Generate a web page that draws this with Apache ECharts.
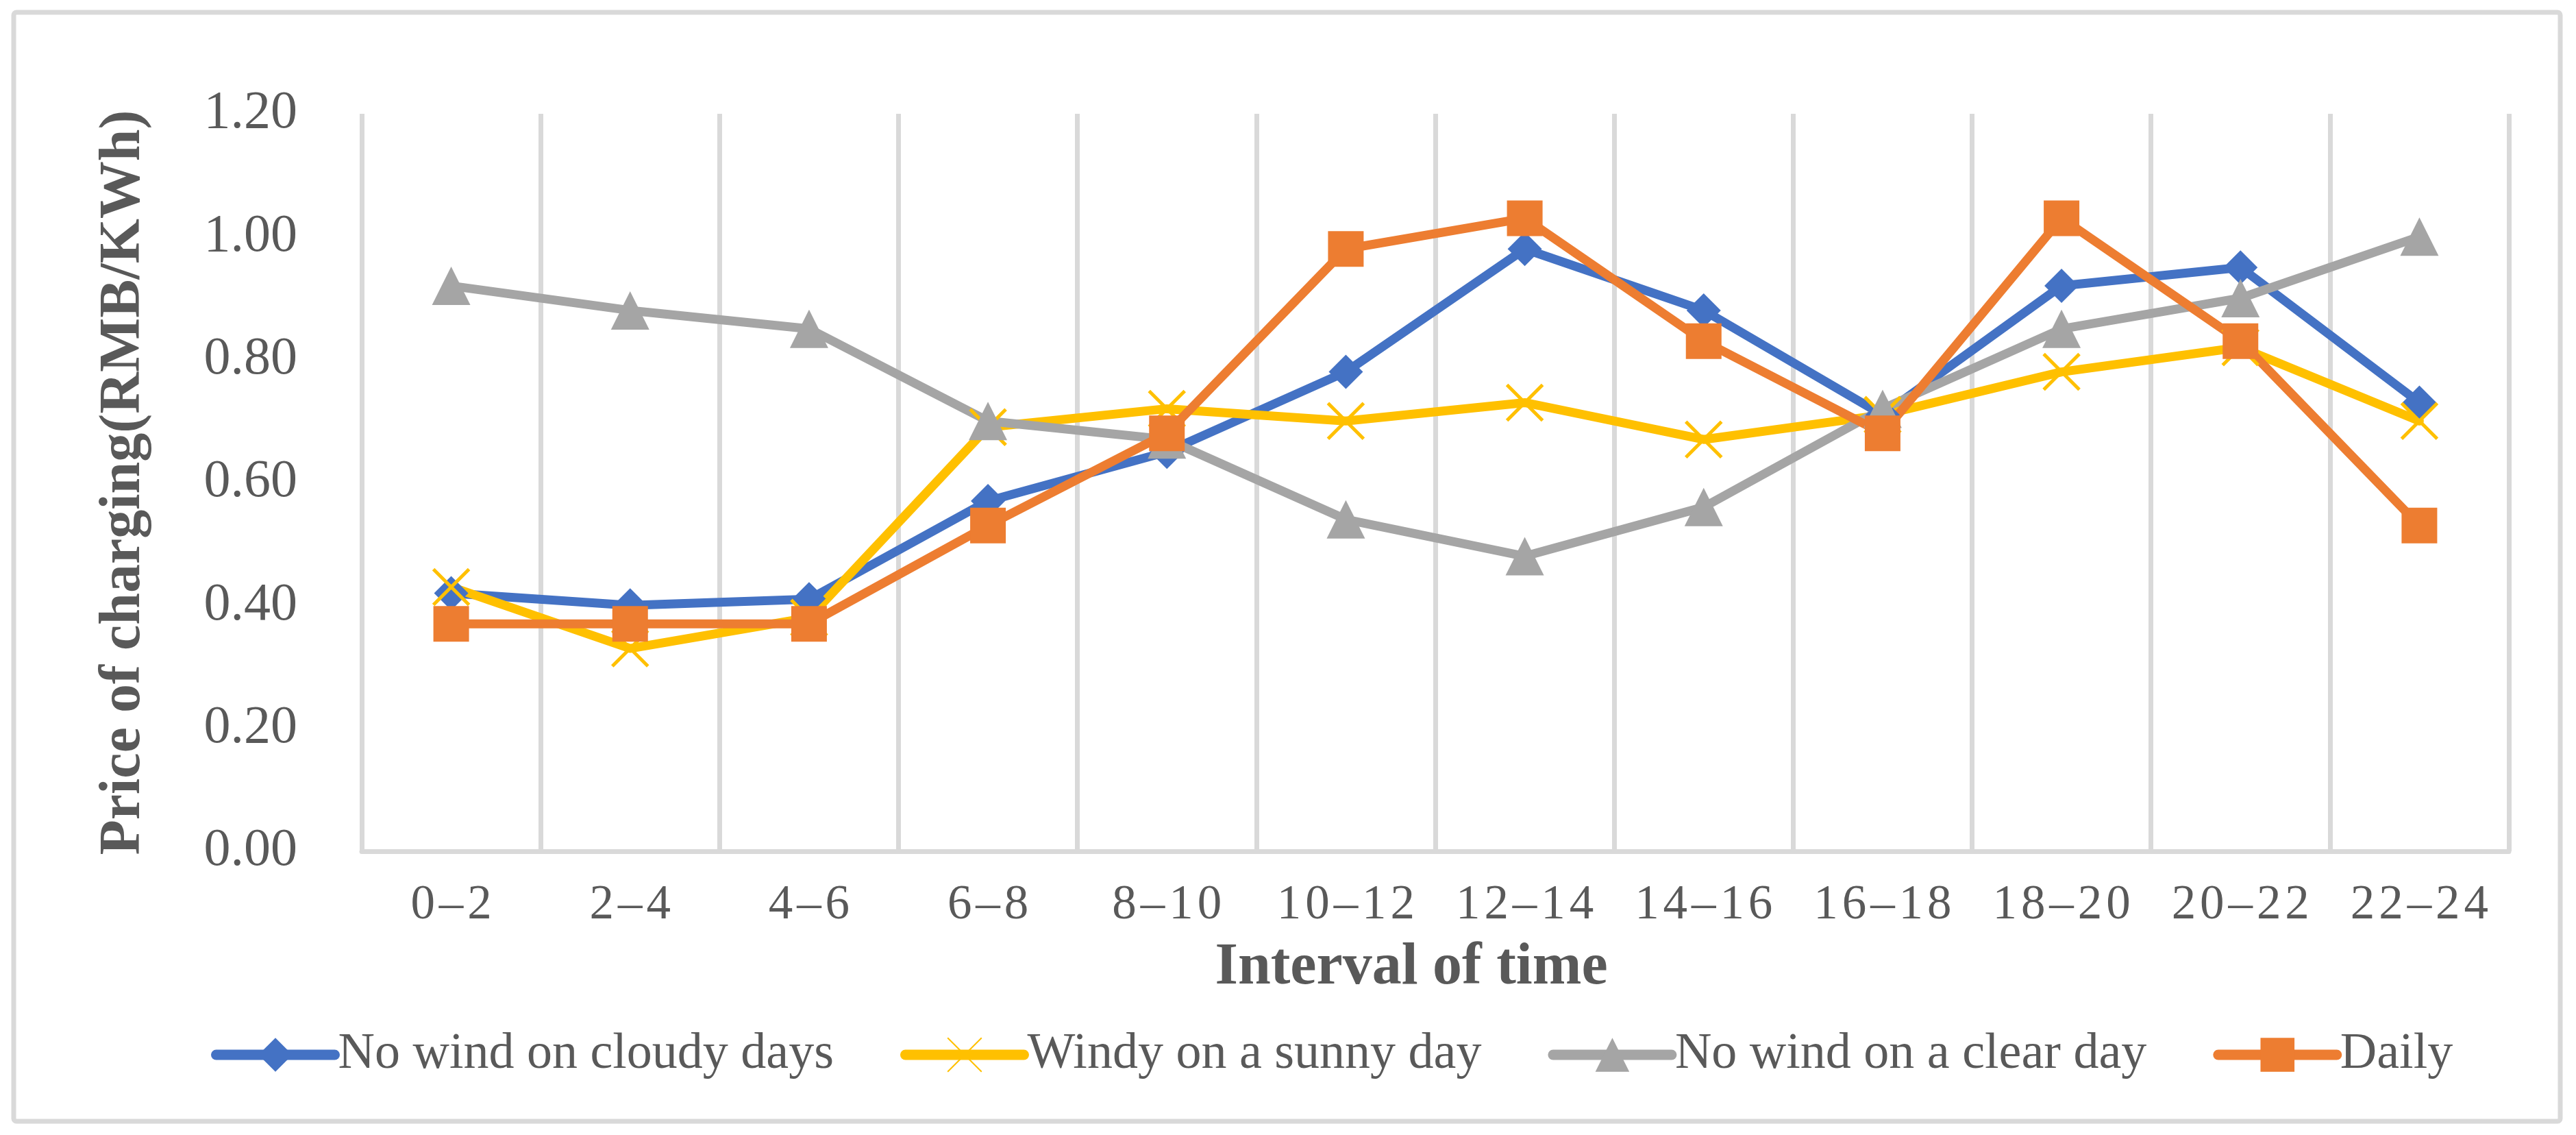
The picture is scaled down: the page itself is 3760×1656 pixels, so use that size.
<!DOCTYPE html>
<html>
<head>
<meta charset="utf-8">
<script src="https://cdn.jsdelivr.net/npm/echarts@6/dist/echarts.min.js"></script>
<style>
html,body{margin:0;padding:0;background:#fff;}
#chart{width:3760px;height:1656px;}
</style>
</head>
<body>
<div id="chart"></div>
<script>
const categories = ['0–2','2–4','4–6','6–8','8–10','10–12','12–14','14–16','16–18','18–20','20–22','22–24'];
const seriesNames = ['No wind on cloudy days','Windy on a sunny day','No wind on a clear day','Daily'];
const noWindCloudy = [0.42, 0.40, 0.41, 0.57, 0.65, 0.78, 0.98, 0.88, 0.71, 0.92, 0.95, 0.73];
const windySunny   = [0.43, 0.33, 0.38, 0.69, 0.72, 0.70, 0.73, 0.67, 0.71, 0.78, 0.82, 0.70];
const noWindClear  = [0.92, 0.88, 0.85, 0.70, 0.67, 0.54, 0.48, 0.56, 0.72, 0.85, 0.90, 1.00];
const daily        = [0.37, 0.37, 0.37, 0.53, 0.68, 0.98, 1.03, 0.83, 0.68, 1.03, 0.83, 0.53];
const yTicks = [0, 0.2, 0.4, 0.6, 0.8, 1.0, 1.2];

const FONT = '"Liberation Serif", "Times New Roman", serif';
const TXT = '#595959';
const GRID = '#d9d9d9';
const LW = 13;

function mk(name, data, color, symbol, size, extra) {
  return Object.assign({
    name: name,
    type: 'line',
    data: data,
    symbol: symbol,
    symbolSize: size,
    showAllSymbol: true,
    lineStyle: { color: color, width: LW, cap: 'round', join: 'round' },
    itemStyle: { color: color, borderColor: color, borderWidth: 0 },
    emphasis: { disabled: true }
  }, extra || {});
}

const chart = echarts.init(document.getElementById('chart'), null, { renderer: 'canvas' });
chart.setOption({
  animation: false,
  backgroundColor: '#fff',
  graphic: [{
    type: 'rect',
    shape: { x: 20, y: 18, width: 3717, height: 1618, r: 4 },
    style: { fill: 'none', stroke: GRID, lineWidth: 7 },
    z: -1
  }],
  grid: { left: 528, right: 98, top: 166, bottom: 414, containLabel: false },
  legend: {
    left: 303, top: 1497,
    itemWidth: 173, itemHeight: 62, itemGap: 97,
    lineStyle: { width: 15, cap: 'round' },
    textStyle: { fontFamily: FONT, fontSize: 74, color: TXT },
    data: seriesNames
  },
  xAxis: {
    type: 'category',
    data: categories,
    boundaryGap: true,
    name: 'Interval of time',
    nameLocation: 'middle',
    nameGap: 128,
    nameTextStyle: { fontFamily: FONT, fontSize: 86, fontWeight: 'bold', color: TXT, padding: [0, 70, 0, 0] },
    axisLine: { show: true, lineStyle: { color: GRID, width: 7 } },
    axisTick: { show: false },
    splitLine: { show: true, interval: 0, lineStyle: { color: GRID, width: 7 } },
    axisLabel: {
      fontFamily: FONT, fontSize: 71, color: TXT, margin: 44, interval: 0,
      formatter: v => v.split('').join('\u200A')
    }
  },
  yAxis: {
    type: 'value',
    min: yTicks[0], max: yTicks[yTicks.length - 1], interval: 0.2,
    name: 'Price of charging(RMB/KWh)',
    nameLocation: 'middle',
    nameGap: 305,
    nameTextStyle: { fontFamily: FONT, fontSize: 84, fontWeight: 'bold', color: TXT },
    axisLine: { show: false },
    axisTick: { show: false },
    splitLine: { show: false },
    axisLabel: { fontFamily: FONT, fontSize: 78, color: TXT, margin: 94, formatter: v => v.toFixed(2) }
  },
  series: [
    mk(seriesNames[0], noWindCloudy, '#4472C4', 'diamond', 50),
    mk(seriesNames[1], windySunny, '#FFC000', 'path://M0,0L10,10M10,0L0,10', 52, {
      symbolKeepAspect: true,
      itemStyle: { color: '#FFC000', borderColor: '#FFC000', borderWidth: 5 }
    }),
    mk(seriesNames[2], noWindClear, '#A5A5A5', 'triangle', 56),
    mk(seriesNames[3], daily, '#ED7D31', 'rect', 52)
  ]
});
</script>
</body>
</html>
